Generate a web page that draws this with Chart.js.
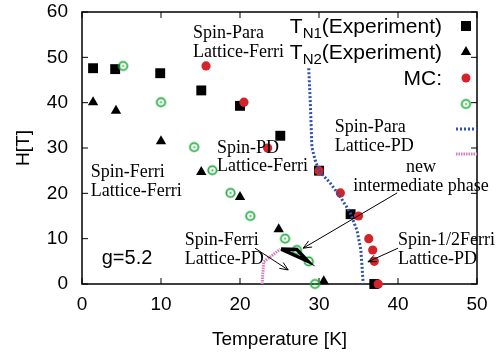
<!DOCTYPE html>
<html>
<head>
<meta charset="utf-8">
<script src="https://cdn.jsdelivr.net/npm/chart.js@4.4.0/dist/chart.umd.min.js"></script>
<style>
html, body { margin: 0; padding: 0; background: #fff; }
</style>
</head>
<body>
<canvas id="myChart" width="496" height="356"></canvas>
<script>
// T_N1 (experiment) - squares
const tn1Temp = [1.4, 4.2, 9.9, 15.1, 20.0, 25.1, 30.0, 34.0, 37.0];
const tn1Field = [47.6, 47.4, 46.5, 42.7, 39.3, 32.7, 25.0, 15.4, 0];

// T_N2 (experiment) - triangles
const tn2Temp = [1.4, 4.3, 10.0, 15.1, 20.0, 24.9, 30.6];
const tn2Field = [40.1, 38.2, 31.5, 24.7, 19.2, 12.1, 0.6];

// MC - red dots
const mcRedTemp = [15.7, 20.5, 23.5, 30.0, 32.7, 35.0, 36.3, 36.8, 37.0, 37.5];
const mcRedField = [48.1, 40.1, 30.0, 25.0, 20.1, 15.0, 10.0, 7.5, 5.0, 0];

// MC - green rings
const mcGreenTemp = [5.2, 10.0, 14.2, 16.5, 18.8, 21.3, 25.7, 27.2, 28.7, 29.5];
const mcGreenField = [48.1, 40.1, 30.2, 25.1, 20.1, 15.0, 10.0, 7.5, 5.0, 0];

// Spin-Para / Lattice-PD boundary (blue dotted)
const paraTemp = [28.7, 28.9, 29.1, 29.5, 30.0, 31.4, 32.7, 33.9, 34.8, 35.3, 35.6];
const paraField = [47.6, 40.0, 30.2, 27.4, 25.0, 22.3, 19.2, 15.9, 11.9, 7.5, 0];

// boundary of new intermediate phase (pink dotted)
const pinkTemp = [22.8, 23.0, 25.1];
const pinkField = [0, 4.9, 7.7];

// new intermediate phase region (thick black)
const phaseTemp = [25.2, 27.2, 28.6, 25.2];
const phaseField = [7.7, 7.6, 5.0, 7.7];

const xTicks = [0, 10, 20, 30, 40, 50];
const yTicks = [0, 10, 20, 30, 40, 50, 60];

const red = '#d42329';
const green = '#1fae3c';
const blue = '#3050b0';
const pink = '#d47cc0';

const serif = '"Liberation Serif", "DejaVu Serif", serif';
const sans = '"Liberation Sans", Arial, sans-serif';

// annotations: [T, H] of first baseline
const notes = [
    { t: 14.05, h: 54.2, lines: ['Spin-Para', 'Lattice-Ferri'] },
    { t: 17.1, h: 28.9, lines: ['Spin-PD', 'Lattice-Ferri'] },
    { t: 32.0, h: 33.5, lines: ['Spin-Para', 'Lattice-PD'] },
    { t: 42.9, h: 24.7, lines: ['new', 'intermediate phase'], center: true },
    { t: 13.0, h: 8.6, lines: ['Spin-Ferri', 'Lattice-PD'] },
    { t: 40.0, h: 8.6, lines: ['Spin-1/2Ferri', 'Lattice-PD'] },
    { t: 1.1, h: 23.6, lines: ['Spin-Ferri', 'Lattice-Ferri'] },
];

// arrows [fromT, fromH, toT, toH]
const arrows = [
    [39.9, 20.1, 28.0, 7.9],
    [21.9, 7.9, 26.1, 3.1],
    [40.0, 7.9, 36.2, 4.9],
];

function toPoints(xs, ys) {
    return xs.map((x, i) => ({ x: x, y: ys[i] }));
}

function ringMarker() {
    const c = document.createElement('canvas');
    c.width = 13;
    c.height = 13;
    const g = c.getContext('2d');
    g.strokeStyle = green;
    g.lineWidth = 1.8;
    g.beginPath();
    g.arc(6.5, 6.5, 4.2, 0, Math.PI * 2);
    g.stroke();
    g.fillStyle = green;
    g.beginPath();
    g.arc(6.5, 6.5, 1.1, 0, Math.PI * 2);
    g.fill();
    return c;
}
const ring = ringMarker();

// frame with inward ticks on all sides
const framePlugin = {
    id: 'frame',
    beforeDatasetsDraw(chart) {
        const ctx = chart.ctx;
        const a = chart.chartArea;
        const xs = chart.scales.x, ys = chart.scales.y;
        ctx.save();
        ctx.strokeStyle = '#000';
        ctx.lineWidth = 1.5;
        ctx.strokeRect(a.left, a.top, a.right - a.left, a.bottom - a.top);
        ctx.lineWidth = 1;
        ctx.beginPath();
        xTicks.forEach(v => {
            const px = xs.getPixelForValue(v);
            ctx.moveTo(px, a.bottom); ctx.lineTo(px, a.bottom - 6);
            ctx.moveTo(px, a.top); ctx.lineTo(px, a.top + 6);
        });
        yTicks.forEach(v => {
            const py = ys.getPixelForValue(v);
            ctx.moveTo(a.left, py); ctx.lineTo(a.left + 6, py);
            ctx.moveTo(a.right, py); ctx.lineTo(a.right - 6, py);
        });
        ctx.stroke();
        ctx.restore();
    }
};

function drawArrow(ctx, x1, y1, x2, y2) {
    const ang = Math.atan2(y2 - y1, x2 - x1);
    const len = 9;
    ctx.beginPath();
    ctx.moveTo(x1, y1);
    ctx.lineTo(x2, y2);
    ctx.moveTo(x2 - len * Math.cos(ang - 0.4), y2 - len * Math.sin(ang - 0.4));
    ctx.lineTo(x2, y2);
    ctx.lineTo(x2 - len * Math.cos(ang + 0.4), y2 - len * Math.sin(ang + 0.4));
    ctx.stroke();
}

const annotatePlugin = {
    id: 'annotate',
    afterDatasetsDraw(chart) {
        const ctx = chart.ctx;
        const xs = chart.scales.x, ys = chart.scales.y;
        const a = chart.chartArea;
        ctx.save();
        ctx.fillStyle = '#000';
        ctx.textBaseline = 'alphabetic';

        // serif phase labels
        ctx.font = '18px ' + serif;
        notes.forEach(n => {
            const px = xs.getPixelForValue(n.t);
            const py = ys.getPixelForValue(n.h);
            ctx.textAlign = n.center ? 'center' : 'left';
            n.lines.forEach((s, i) => ctx.fillText(s, px, py + i * 18.5));
        });

        ctx.textAlign = 'left';
        ctx.font = '20px ' + sans;
        ctx.fillText('g=5.2', xs.getPixelForValue(2.5), ys.getPixelForValue(4.4));

        // arrows
        ctx.strokeStyle = '#000';
        ctx.lineWidth = 1;
        arrows.forEach(r => {
            drawArrow(ctx, xs.getPixelForValue(r[0]), ys.getPixelForValue(r[1]),
                xs.getPixelForValue(r[2]), ys.getPixelForValue(r[3]));
        });

        // legend, top right
        const tx = a.right - 35;
        const mx = a.right - 11;
        const rowY = [a.top + 14, a.top + 40, a.top + 66, a.top + 92, a.top + 117, a.top + 142];
        ctx.textAlign = 'left';
        const big = '21px ' + sans;
        const small = '15px ' + sans;
        ['N1', 'N2'].forEach((sub, i) => {
            const base = rowY[i] + 7;
            ctx.font = big;
            const wT = ctx.measureText('T').width;
            const wE = ctx.measureText('(Experiment)').width;
            ctx.font = small;
            const wS = ctx.measureText(sub).width;
            let x0 = tx - wE - wS - wT;
            ctx.font = big;
            ctx.fillText('T', x0, base);
            ctx.font = small;
            ctx.fillText(sub, x0 + wT, base + 5);
            ctx.font = big;
            ctx.fillText('(Experiment)', x0 + wT + wS, base);
        });
        ctx.textAlign = 'right';
        ctx.font = big;
        ctx.fillText('MC:', tx, rowY[2] + 7);

        // legend markers
        ctx.fillStyle = '#000';
        ctx.fillRect(mx - 5, rowY[0] - 5, 10, 10);
        ctx.beginPath();
        ctx.moveTo(mx, rowY[1] - 6);
        ctx.lineTo(mx + 5.2, rowY[1] + 3);
        ctx.lineTo(mx - 5.2, rowY[1] + 3);
        ctx.closePath();
        ctx.fill();
        ctx.fillStyle = red;
        ctx.beginPath();
        ctx.arc(mx, rowY[2], 4.5, 0, Math.PI * 2);
        ctx.fill();
        ctx.drawImage(ring, mx - 6.5, rowY[3] - 6.5);
        ctx.lineWidth = 3;
        ctx.setLineDash([2, 2]);
        ctx.strokeStyle = blue;
        ctx.beginPath();
        ctx.moveTo(mx - 10, rowY[4]);
        ctx.lineTo(a.right, rowY[4]);
        ctx.stroke();
        ctx.setLineDash([1.5, 1]);
        ctx.strokeStyle = pink;
        ctx.beginPath();
        ctx.moveTo(mx - 10, rowY[5]);
        ctx.lineTo(a.right, rowY[5]);
        ctx.stroke();
        ctx.restore();
    }
};

const ctx = document.getElementById('myChart').getContext('2d');
new Chart(ctx, {
    type: 'scatter',
    data: {
        datasets: [
            {
                label: 'Spin-Para Lattice-PD',
                data: toPoints(paraTemp, paraField),
                showLine: true,
                borderColor: blue,
                borderWidth: 3,
                borderDash: [2, 2],
                pointRadius: 0,
                order: 0,
            },
            {
                label: 'intermediate boundary',
                data: toPoints(pinkTemp, pinkField),
                showLine: true,
                borderColor: pink,
                borderWidth: 3,
                borderDash: [1.5, 1],
                pointRadius: 0,
                order: 0,
            },
            {
                label: 'new intermediate phase',
                data: toPoints(phaseTemp, phaseField),
                showLine: true,
                borderColor: '#000',
                borderWidth: 3.5,
                borderJoinStyle: 'miter',
                pointRadius: 0,
                order: 0,
            },
            {
                label: 'MC red',
                data: toPoints(mcRedTemp, mcRedField),
                pointStyle: 'circle',
                pointRadius: 4.6,
                backgroundColor: red,
                borderColor: red,
                borderWidth: 0,
                order: 1,
            },
            {
                label: 'MC green',
                data: toPoints(mcGreenTemp, mcGreenField),
                pointStyle: ring,
                order: 2,
            },
            {
                label: 'TN2(Experiment)',
                data: toPoints(tn2Temp, tn2Field),
                pointStyle: 'triangle',
                pointRadius: 6,
                backgroundColor: '#000',
                borderColor: '#000',
                borderWidth: 0,
                order: 3,
            },
            {
                label: 'TN1(Experiment)',
                data: toPoints(tn1Temp, tn1Field),
                pointStyle: 'rect',
                pointRadius: 7,
                backgroundColor: '#000',
                borderColor: '#000',
                borderWidth: 0,
                order: 4,
            },
        ],
    },
    options: {
        responsive: false,
        animation: false,
        devicePixelRatio: 1,
        clip: false,
        layout: { padding: { top: 12, right: 19, left: 0, bottom: 0 } },
        plugins: {
            legend: { display: false },
            tooltip: { enabled: false },
        },
        scales: {
            x: {
                type: 'linear',
                min: 0,
                max: 50,
                afterBuildTicks: s => { s.ticks = xTicks.map(v => ({ value: v })); },
                afterFit: s => { s.height = 72; s.paddingLeft = 0; s.paddingRight = 0; },
                grid: { display: false, drawTicks: false },
                border: { display: false },
                ticks: { color: '#000', font: { family: sans, size: 19 }, padding: 9, maxRotation: 0 },
                title: {
                    display: true,
                    text: 'Temperature [K]',
                    color: '#000',
                    font: { family: sans, size: 19 },
                    padding: { top: 0, bottom: 5 },
                },
            },
            y: {
                type: 'linear',
                min: 0,
                max: 60,
                afterBuildTicks: s => { s.ticks = yTicks.map(v => ({ value: v })); },
                afterFit: s => { s.width = 82; s.paddingTop = 0; s.paddingBottom = 0; },
                grid: { display: false, drawTicks: false },
                border: { display: false },
                ticks: { color: '#000', font: { family: sans, size: 19 }, padding: 14 },
                title: {
                    display: true,
                    text: 'H[T]',
                    color: '#000',
                    font: { family: sans, size: 19 },
                    padding: { top: 12, bottom: 0 },
                },
            },
        },
    },
    plugins: [framePlugin, annotatePlugin],
});
</script>
</body>
</html>
